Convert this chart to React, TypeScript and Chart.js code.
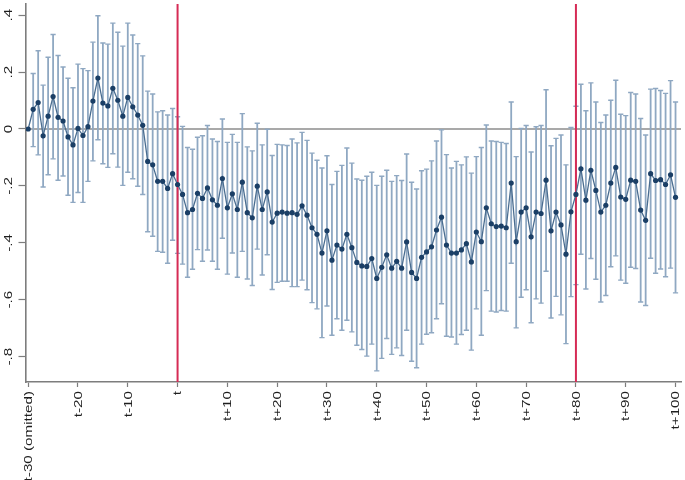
import React, { useEffect, useRef } from "react";
import { Chart, registerables } from "chart.js";

Chart.register(...registerables);

// Event time categories: t-30 ... t+100
const periods: number[] = Array.from({ length: 131 }, (_, i) => i - 30);

// Point estimates (t-30 omitted = 0)
const coef: number[] = [
  0, 0.069, 0.093, -0.024, 0.045, 0.114, 0.041, 0.028, -0.028, -0.056,
  0.002, -0.023, 0.008, 0.098, 0.179, 0.091, 0.081, 0.143, 0.101, 0.045,
  0.111, 0.078, 0.049, 0.013, -0.114, -0.126, -0.184, -0.184, -0.209, -0.157,
  -0.195, -0.23, -0.294, -0.283, -0.226, -0.244, -0.207, -0.249, -0.268, -0.174,
  -0.277, -0.228, -0.283, -0.187, -0.294, -0.312, -0.201, -0.283, -0.221, -0.327,
  -0.296, -0.292, -0.296, -0.294, -0.3, -0.27, -0.303, -0.347, -0.37, -0.436,
  -0.358, -0.461, -0.408, -0.422, -0.37, -0.417, -0.469, -0.481, -0.483, -0.455,
  -0.525, -0.486, -0.442, -0.489, -0.465, -0.489, -0.397, -0.504, -0.525, -0.451,
  -0.432, -0.414, -0.355, -0.31, -0.408, -0.436, -0.436, -0.425, -0.403, -0.467,
  -0.362, -0.396, -0.277, -0.333, -0.343, -0.341, -0.347, -0.19, -0.396, -0.292,
  -0.277, -0.379, -0.292, -0.297, -0.18, -0.358, -0.292, -0.337, -0.44, -0.291,
  -0.23, -0.14, -0.25, -0.145, -0.216, -0.292, -0.268, -0.19, -0.135, -0.239,
  -0.247, -0.18, -0.184, -0.285, -0.321, -0.157, -0.181, -0.178, -0.195, -0.161,
  -0.24,
];

// Upper confidence bounds
const ciHigh: (number | null)[] = [
  null, 0.195, 0.275, 0.154, 0.252, 0.332, 0.258, 0.218, 0.178, 0.145,
  0.228, 0.212, 0.205, 0.305, 0.398, 0.302, 0.298, 0.372, 0.34, 0.291,
  0.372, 0.33, 0.3, 0.257, 0.133, 0.123, 0.06, 0.064, 0.049, 0.072,
  0.043, 0.009, -0.065, -0.071, -0.029, -0.024, 0.012, -0.035, -0.044, 0.035,
  -0.047, -0.019, -0.047, 0.054, -0.063, -0.077, 0.02, -0.056, -0.001, -0.093,
  -0.054, -0.056, -0.058, -0.035, -0.049, -0.012, -0.04, -0.085, -0.11, -0.137,
  -0.094, -0.195, -0.149, -0.128, -0.067, -0.12, -0.176, -0.18, -0.166, -0.152,
  -0.198, -0.166, -0.145, -0.184, -0.164, -0.181, -0.088, -0.187, -0.211, -0.147,
  -0.141, -0.112, -0.042, -0.003, -0.09, -0.137, -0.114, -0.126, -0.098, -0.155,
  -0.097, -0.065, 0.014, -0.042, -0.044, -0.047, -0.051, 0.095, -0.097, 0.002,
  0.012, -0.081, 0.008, 0.012, 0.138, -0.059, -0.033, -0.021, -0.126, 0.005,
  0.08, 0.157, 0.064, 0.162, 0.095, 0.023, 0.049, 0.101, 0.171, 0.052,
  0.047, 0.128, 0.123, 0.037, -0.021, 0.14, 0.142, 0.135, 0.125, 0.17,
  0.095,
];

// Lower confidence bounds
const ciLow: (number | null)[] = [
  null, -0.062, -0.091, -0.204, -0.161, -0.105, -0.18, -0.165, -0.233, -0.258,
  -0.223, -0.258, -0.184, -0.112, -0.038, -0.122, -0.135, -0.087, -0.134, -0.198,
  -0.152, -0.175, -0.201, -0.23, -0.361, -0.377, -0.43, -0.433, -0.472, -0.391,
  -0.437, -0.475, -0.521, -0.493, -0.424, -0.465, -0.425, -0.465, -0.493, -0.384,
  -0.51, -0.436, -0.521, -0.43, -0.527, -0.55, -0.422, -0.513, -0.442, -0.564,
  -0.539, -0.535, -0.535, -0.554, -0.554, -0.531, -0.565, -0.61, -0.632, -0.733,
  -0.622, -0.725, -0.667, -0.707, -0.672, -0.713, -0.76, -0.775, -0.798, -0.756,
  -0.85, -0.806, -0.736, -0.792, -0.769, -0.796, -0.707, -0.816, -0.839, -0.756,
  -0.721, -0.716, -0.667, -0.614, -0.728, -0.731, -0.756, -0.722, -0.707, -0.777,
  -0.632, -0.725, -0.568, -0.64, -0.643, -0.638, -0.64, -0.472, -0.699, -0.591,
  -0.565, -0.681, -0.597, -0.612, -0.5, -0.664, -0.588, -0.653, -0.754, -0.589,
  -0.547, -0.44, -0.562, -0.455, -0.528, -0.608, -0.585, -0.484, -0.446, -0.531,
  -0.542, -0.486, -0.49, -0.608, -0.62, -0.454, -0.507, -0.492, -0.519, -0.489,
  -0.576,
];

const xTickValues: number[] = [-30, -20, -10, 0, 10, 20, 30, 40, 50, 60, 70, 80, 90, 100];
const yTickValues: number[] = [-0.8, -0.6, -0.4, -0.2, 0, 0.2, 0.4];
const eventLines: number[] = [0, 80];

const xTickLabel = (v: number): string =>
  v === -30 ? "t-30 (omitted)" : v === 0 ? "t" : v < 0 ? `t${v}` : `t+${v}`;

const yTickLabel = (v: number): string => {
  if (Math.abs(v) < 1e-9) return "0";
  const s = Math.abs(v).toFixed(1).replace(/^0/, "");
  return (v < 0 ? "-" : "") + s;
};

const LABEL_FONT = '10px "Liberation Sans", Arial, sans-serif';
const STRETCH = 1.52;

const overlayPlugin = {
  id: "overlay",
  beforeDatasetsDraw(chart: any) {
    const { ctx, chartArea, scales } = chart;
    const x = scales.x;
    const y = scales.y;
    ctx.save();
    // zero reference line
    const y0 = y.getPixelForValue(0);
    ctx.strokeStyle = "#8c8c8c";
    ctx.lineWidth = 1.5;
    ctx.beginPath();
    ctx.moveTo(chartArea.left, y0);
    ctx.lineTo(chartArea.right, y0);
    ctx.stroke();
    // confidence intervals
    ctx.strokeStyle = "#8fa8c2";
    for (let i = 0; i < periods.length; i++) {
      const lo = ciLow[i];
      const hi = ciHigh[i];
      if (lo === null || hi === null) continue;
      const px = x.getPixelForValue(periods[i]);
      const pl = y.getPixelForValue(lo);
      const ph = y.getPixelForValue(hi);
      ctx.lineWidth = 1.8;
      ctx.beginPath();
      ctx.moveTo(px, pl);
      ctx.lineTo(px, ph);
      ctx.stroke();
      ctx.lineWidth = 1.4;
      ctx.beginPath();
      ctx.moveTo(px - 2.6, pl);
      ctx.lineTo(px + 2.6, pl);
      ctx.moveTo(px - 2.6, ph);
      ctx.lineTo(px + 2.6, ph);
      ctx.stroke();
    }
    // event lines
    ctx.strokeStyle = "#d62b55";
    ctx.lineWidth = 2;
    for (const v of eventLines) {
      const px = x.getPixelForValue(v);
      ctx.beginPath();
      ctx.moveTo(px, chartArea.top);
      ctx.lineTo(px, chartArea.bottom);
      ctx.stroke();
    }
    ctx.restore();
  },
  afterDraw(chart: any) {
    const { ctx, chartArea, scales } = chart;
    const x = scales.x;
    const y = scales.y;
    ctx.save();
    ctx.font = LABEL_FONT;
    ctx.fillStyle = "#1e1e1e";
    ctx.textBaseline = "middle";
    // x tick labels (rotated, stretched)
    for (const v of xTickValues) {
      const px = x.getPixelForValue(v) + 1;
      ctx.save();
      ctx.translate(px, chartArea.bottom + 9);
      ctx.scale(1, STRETCH);
      ctx.rotate(-Math.PI / 2);
      ctx.textAlign = "right";
      ctx.fillText(xTickLabel(v), 0, 0);
      ctx.restore();
    }
    // y tick labels (rotated, stretched)
    for (const v of yTickValues) {
      const py = y.getPixelForValue(v);
      ctx.save();
      ctx.translate(9, py);
      ctx.scale(1, STRETCH);
      ctx.rotate(-Math.PI / 2);
      ctx.textAlign = "center";
      ctx.fillText(yTickLabel(v), 0, 0);
      ctx.restore();
    }
    ctx.restore();
  },
};

export default function App() {
  const canvasRef = useRef<HTMLCanvasElement | null>(null);

  useEffect(() => {
    document.body.style.margin = "0";
    const canvas = canvasRef.current;
    if (!canvas) return;
    const axisColor = "#7d7d7d";
    const chart = new Chart(canvas, {
      type: "line",
      data: {
        datasets: [
          {
            data: periods.map((p, i) => ({ x: p, y: coef[i] })),
            borderColor: "#4a6d90",
            borderWidth: 1.3,
            pointRadius: 2.6,
            pointBackgroundColor: "#1b3f66",
            pointBorderColor: "#1b3f66",
            pointBorderWidth: 0,
            tension: 0,
          },
        ],
      },
      options: {
        responsive: false,
        animation: false,
        devicePixelRatio: 1,
        layout: { padding: { left: 18.5, right: 0, top: 0, bottom: 93 } },
        plugins: { legend: { display: false }, tooltip: { enabled: false } },
        scales: {
          x: {
            type: "linear",
            min: -30.54,
            max: 101.1,
            afterBuildTicks: (s: any) => {
              s.ticks = xTickValues.map((v) => ({ value: v }));
            },
            ticks: { display: false },
            grid: {
              drawOnChartArea: false,
              drawTicks: true,
              tickLength: 5,
              tickColor: axisColor,
              tickWidth: 1.2,
            },
            border: { color: axisColor, width: 1.6 },
          },
          y: {
            type: "linear",
            min: -0.889,
            max: 0.4391,
            afterBuildTicks: (s: any) => {
              s.ticks = yTickValues.map((v) => ({ value: v }));
            },
            ticks: { display: false },
            grid: {
              drawOnChartArea: false,
              drawTicks: true,
              tickLength: 7,
              tickColor: axisColor,
              tickWidth: 1.2,
            },
            border: { color: axisColor, width: 1.6 },
          },
        },
      },
      plugins: [overlayPlugin],
    } as any);
    return () => chart.destroy();
  }, []);

  return (
    <div style={{ width: 685, height: 480 }}>
      <canvas ref={canvasRef} width={685} height={480} style={{ display: "block" }} />
    </div>
  );
}
